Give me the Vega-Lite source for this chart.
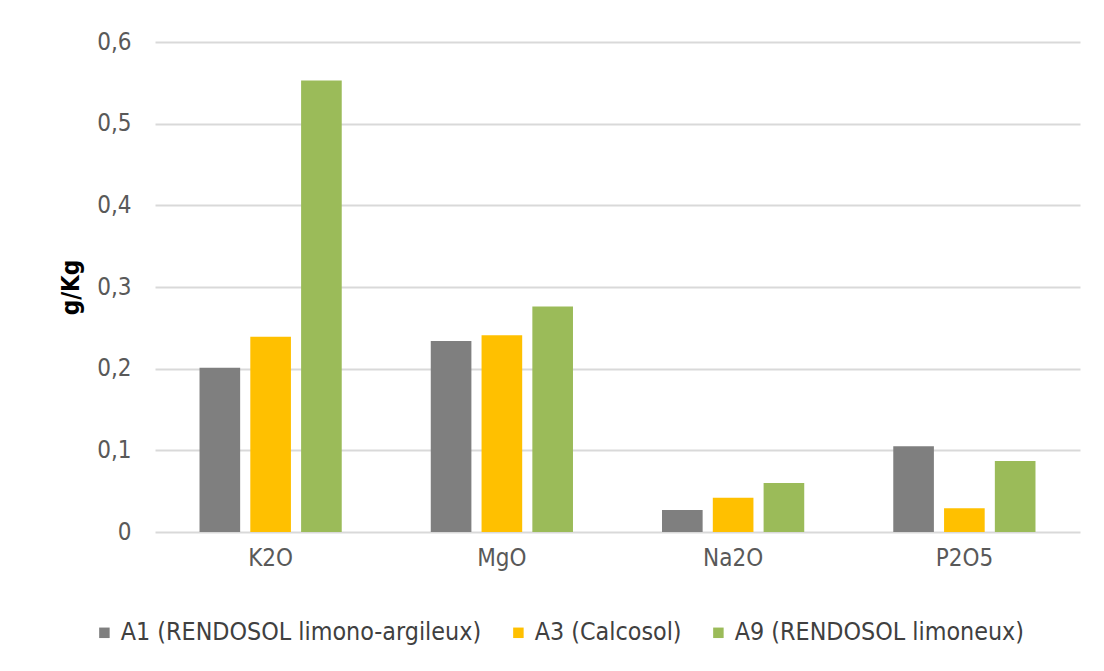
{
  "$schema": "https://vega.github.io/schema/vega-lite/v6.json",
  "autosize": {"type": "none"},
  "padding": {"left": 155, "top": 42, "right": 24, "bottom": 139},
  "width": 925,
  "height": 490,
  "background": "white",
  "config": {
    "view": {"stroke": null},
    "font": "Liberation Sans Narrow, DejaVu Sans Condensed, sans-serif"
  },
  "data": {
    "values": [
      {"oxyde": "K2O", "sol": "A1 (RENDOSOL limono-argileux)", "valeur": 0.201},
      {"oxyde": "K2O", "sol": "A3 (Calcosol)", "valeur": 0.239},
      {"oxyde": "K2O", "sol": "A9 (RENDOSOL limoneux)", "valeur": 0.553},
      {"oxyde": "MgO", "sol": "A1 (RENDOSOL limono-argileux)", "valeur": 0.234},
      {"oxyde": "MgO", "sol": "A3 (Calcosol)", "valeur": 0.241},
      {"oxyde": "MgO", "sol": "A9 (RENDOSOL limoneux)", "valeur": 0.276},
      {"oxyde": "Na2O", "sol": "A1 (RENDOSOL limono-argileux)", "valeur": 0.027},
      {"oxyde": "Na2O", "sol": "A3 (Calcosol)", "valeur": 0.042},
      {"oxyde": "Na2O", "sol": "A9 (RENDOSOL limoneux)", "valeur": 0.060},
      {"oxyde": "P2O5", "sol": "A1 (RENDOSOL limono-argileux)", "valeur": 0.105},
      {"oxyde": "P2O5", "sol": "A3 (Calcosol)", "valeur": 0.029},
      {"oxyde": "P2O5", "sol": "A9 (RENDOSOL limoneux)", "valeur": 0.087}
    ]
  },
  "mark": {"type": "bar"},
  "encoding": {
    "x": {
      "field": "oxyde",
      "type": "nominal",
      "sort": ["K2O", "MgO", "Na2O", "P2O5"],
      "scale": {"paddingInner": 0.385, "paddingOuter": 0.1925},
      "axis": {
        "title": null,
        "labelAngle": 0,
        "labelFontSize": 24,
        "labelColor": "#595959",
        "labelPadding": 14,
        "ticks": false,
        "domain": false
      }
    },
    "xOffset": {
      "field": "sol",
      "type": "nominal",
      "scale": {"paddingInner": 0.2, "paddingOuter": 0}
    },
    "y": {
      "field": "valeur",
      "type": "quantitative",
      "scale": {"domain": [0, 0.6], "nice": false},
      "axis": {
        "title": "g/Kg",
        "titleFontSize": 24,
        "titleFontWeight": "bold",
        "titleColor": "#000000",
        "titlePadding": 13,
        "values": [0, 0.1, 0.2, 0.3, 0.4, 0.5, 0.6],
        "labelExpr": "datum.value == 0 ? '0' : replace(format(datum.value, '.1f'), '.', ',')",
        "labelFontSize": 24,
        "labelColor": "#595959",
        "labelPadding": 24,
        "ticks": false,
        "domain": false,
        "gridColor": "#d9d9d9",
        "gridWidth": 2
      }
    },
    "color": {
      "field": "sol",
      "type": "nominal",
      "scale": {
        "domain": ["A1 (RENDOSOL limono-argileux)", "A3 (Calcosol)", "A9 (RENDOSOL limoneux)"],
        "range": ["#7f7f7f", "#ffc000", "#9bbb59"]
      },
      "legend": {
        "title": null,
        "orient": "none",
        "legendX": -63,
        "legendY": 578,
        "direction": "horizontal",
        "columns": 3,
        "symbolType": "square",
        "symbolSize": 110,
        "symbolStrokeWidth": 0,
        "labelFontSize": 24.8,
        "labelLimit": 600,
        "labelColor": "#404040",
        "columnPadding": 24,
        "labelOffset": 4
      }
    }
  }
}
